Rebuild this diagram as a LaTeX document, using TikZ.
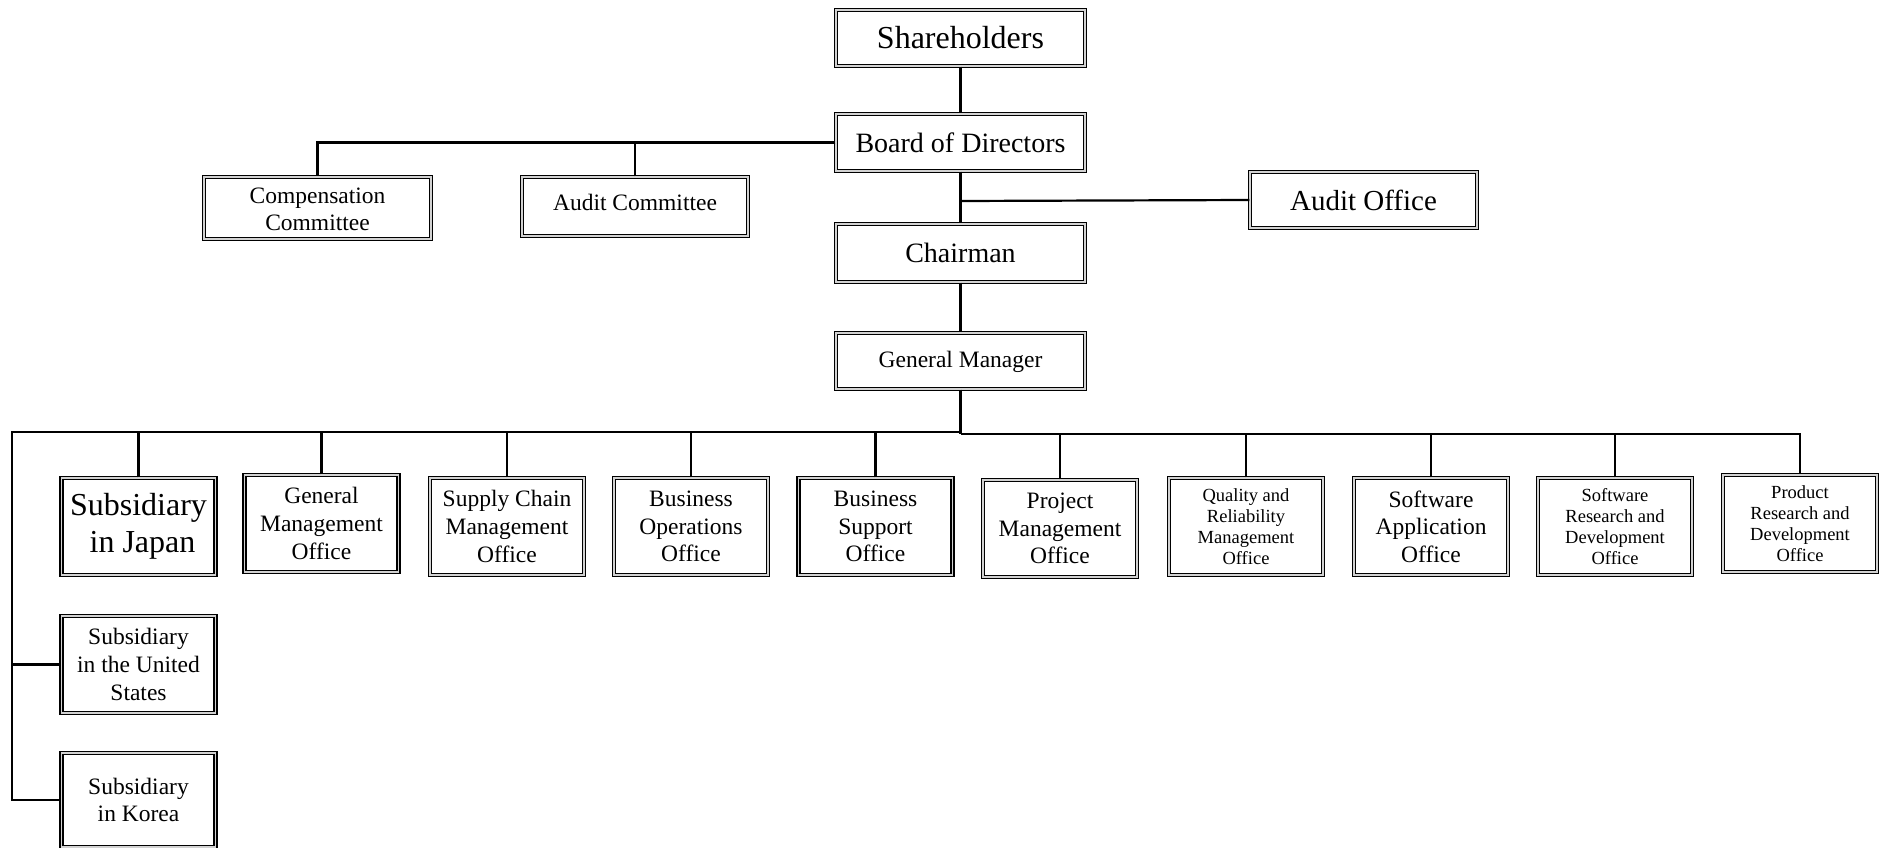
\documentclass[tikz,border=0pt]{standalone}
\usepackage{fontspec}
\setmainfont{Liberation Serif}
\begin{document}
\begin{tikzpicture}[x=1pt,y=-1pt,
  box/.style={draw=black, double=gray!35, double distance=1.5pt, line width=1.3pt,
    inner sep=0pt, align=center, fill=white},
  big/.style={font=\fontsize{32}{37}\selectfont},
  mid/.style={font=\fontsize{28}{32}\selectfont},
  nrm/.style={font=\fontsize{23.5}{27.6}\selectfont},
  sml/.style={font=\fontsize{18.5}{21.2}\selectfont},
  rowbox/.style={box, minimum width=154pt, minimum height=97pt},
  conn/.style={line width=2.2pt}]
\fill[white] (0,0) rectangle (1881,848);
\useasboundingbox (0,0) rectangle (1881,848);

\node[box,big,minimum width=249pt,minimum height=56pt] (sh) at (960.5,38) {Shareholders};
\node[box,mid,minimum width=249pt,minimum height=57pt] (bd) at (960.5,142.5) {Board of Directors};
\node[box,mid,minimum width=249pt,minimum height=58pt] (ch) at (960.5,253) {Chairman};
\node[box,nrm,minimum width=249pt,minimum height=56pt,text depth=4pt] (gm) at (960.5,361) {General Manager};
\node[box,font=\fontsize{29}{33}\selectfont,minimum width=227pt,minimum height=56pt] (ao) at (1363.5,200) {Audit Office};
\node[box,nrm,minimum width=227pt,minimum height=56pt] (cc) at (317.5,208) {\begin{tabular}{@{}c@{}}\rule{0pt}{26pt}Compensation\\Committee\end{tabular}};
\node[box,nrm,minimum width=226pt,minimum height=59pt,text depth=9pt] (ac) at (635,206.5) {Audit Committee};

\node[rowbox,big] (jp) at (138.5,526.5) {Subsidiary\\\ in Japan};
\node[rowbox,nrm] (gmo) at (321.5,523.5) {General\\Management\\Office};
\node[rowbox,nrm] (scm) at (507,526.5) {Supply Chain\\Management\\Office};
\node[rowbox,nrm] (bop) at (691,526.5) {Business\\Operations\\Office};
\node[rowbox,nrm] (bsp) at (875.5,526.5) {Business\\Support\\Office};
\node[rowbox,nrm] (pmo) at (1060,528.5) {Project\\Management\\Office};
\node[rowbox,sml] (qrm) at (1246,526.5) {Quality and\\Reliability\\Management\\Office};
\node[rowbox,nrm] (sao) at (1431,526.5) {Software\\Application\\Office};
\node[rowbox,sml] (srd) at (1615,526.5) {Software\\Research and\\Development\\Office};
\node[rowbox,sml] (prd) at (1800,523.5) {Product\\Research and\\Development\\Office};
\node[rowbox,nrm] (us) at (138.5,664.5) {Subsidiary\\in the United\\States};
\node[rowbox,nrm,minimum height=94pt] (kr) at (138.5,800) {Subsidiary\\in Korea};

\coordinate (bl) at (317.5,142.5);
\coordinate (bo) at (960.5,201);
\coordinate (busc) at (960.5,434);
\coordinate (busl) at (12,432);
\coordinate (busr) at (1800,434);
\coordinate (usl) at (12,664.5);
\coordinate (krl) at (12,800);

\draw[conn] (sh) -- (bd);
\draw[conn] (bd) -- (ch);
\draw[conn] (ch) -- (gm);
\draw[conn] (bd.west) -- (bl) -- (cc.north);
\draw[conn] (ac.north) -- (ac.north |- bl);
\draw[conn] (bo) -- (ao.west);
\draw[conn] (gm.south) -- (busc);
\draw[conn, line width=2.8pt] (busc |- busl) -- (busl) -- (krl) -- (kr.west);
\draw[conn] (busc) -- (busr) -- (prd.north);
\draw[conn] (usl) -- (us.west);
\foreach \n in {jp,gmo,scm,bop,bsp} \draw[conn] (\n.north) -- (\n.north |- busl);
\foreach \n in {pmo,qrm,sao,srd} \draw[conn] (\n.north) -- (\n.north |- busr);
\end{tikzpicture}
\end{document}
